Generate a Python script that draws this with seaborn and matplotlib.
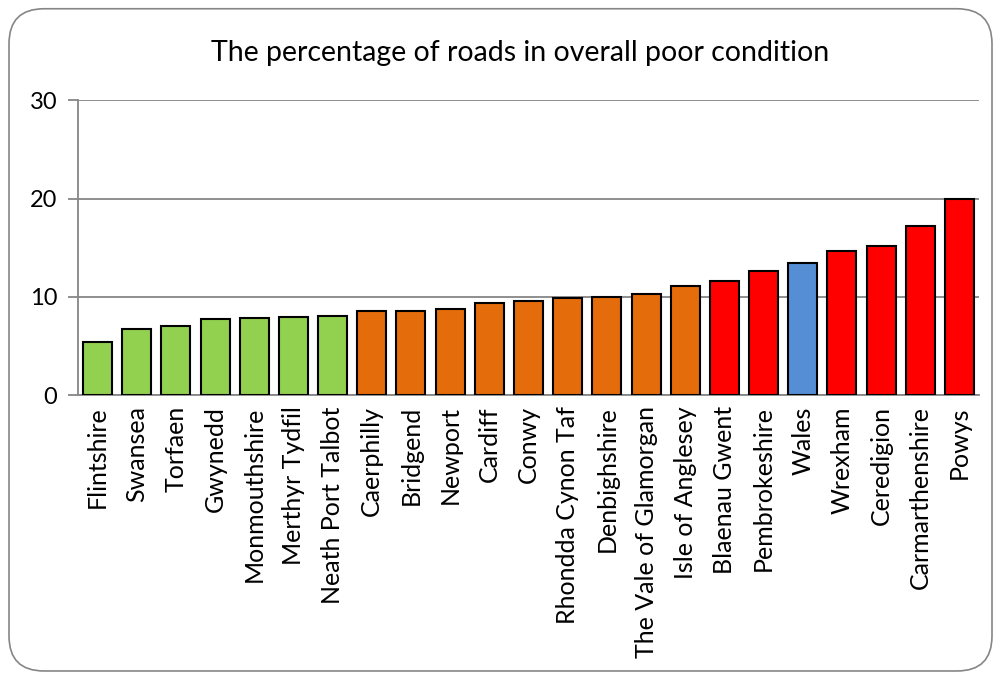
import pandas as pd
import matplotlib.pyplot as plt
import matplotlib.ticker as ticker
from matplotlib.patches import FancyBboxPatch
import seaborn as sb

areas = ["Flintshire", "Swansea", "Torfaen", "Gwynedd", "Monmouthshire", "Merthyr Tydfil",
         "Neath Port Talbot", "Caerphilly", "Bridgend", "Newport", "Cardiff", "Conwy",
         "Rhondda Cynon Taf", "Denbighshire", "The Vale of Glamorgan", "Isle of Anglesey",
         "Blaenau Gwent", "Pembrokeshire", "Wales", "Wrexham", "Ceredigion",
         "Carmarthenshire", "Powys"]
poor_pct = [5.4, 6.7, 7.0, 7.7, 7.8, 7.9, 8.0, 8.6, 8.6, 8.8, 9.4, 9.6,
            9.9, 10.0, 10.3, 11.1, 11.6, 12.6, 13.4, 14.7, 15.2, 17.2, 20.0]
band = ["green"] * 7 + ["orange"] * 9 + ["red"] * 2 + ["blue"] + ["red"] * 4

band_colours = {"green": "#92D050", "orange": "#E46C0A", "red": "#FF0000", "blue": "#558ED5"}

df = pd.DataFrame({"area": areas, "pct": poor_pct, "band": band})

sb.set_style("white")
plt.rcParams["font.family"] = ["Lato", "DejaVu Sans"]
plt.rcParams["text.color"] = "black"
plt.rcParams["xtick.color"] = "black"
plt.rcParams["ytick.color"] = "black"

fig = plt.figure(figsize=(10, 6.73), dpi=100)
ax = fig.add_axes([0.078, 0.413, 0.901, 0.438])

# outer rounded frame like the spreadsheet chart area
frame = FancyBboxPatch((0.009, 0.003), 0.983, 0.984, boxstyle="round,pad=0,rounding_size=0.035",
                       transform=fig.transFigure, facecolor="none", edgecolor="#868686",
                       linewidth=1.2, mutation_aspect=1000 / 673)
fig.patches.append(frame)

sb.barplot(data=df, x="area", y="pct", hue="band", palette=band_colours, dodge=False,
           legend=False, width=0.74, saturation=1, edgecolor="black", linewidth=1.5,
           ax=ax, zorder=3)

grey = "#868686"
ax.set_ylim(0, 30)
ax.set_xlim(-0.5, len(areas) - 0.5)
ax.yaxis.set_major_locator(ticker.MultipleLocator(10))
ax.grid(axis="y", color=grey, linewidth=1.3, zorder=0)
ax.set_axisbelow(True)
for s in ["top", "right"]:
    ax.spines[s].set_visible(False)
for s in ["left", "bottom"]:
    ax.spines[s].set_color(grey)
    ax.spines[s].set_linewidth(1.3)

ax.set_xticks(range(len(areas)))
ax.set_xticklabels(areas, rotation=90)
ax.set_xticks([i - 0.5 for i in range(len(areas) + 1)], minor=True)
ax.tick_params(axis="x", which="major", length=0, pad=8, labelsize=18)
ax.tick_params(axis="x", which="minor", length=7, color=grey, width=1.3, direction="out")
ax.tick_params(axis="y", length=7, color=grey, width=1.3, labelsize=17, pad=8, left=True)

ax.set_xlabel("")
ax.set_ylabel("")
fig.suptitle("The percentage of roads in overall poor condition", x=0.52, y=0.94, fontsize=20.5)

fig.savefig("out.png", dpi=100)
